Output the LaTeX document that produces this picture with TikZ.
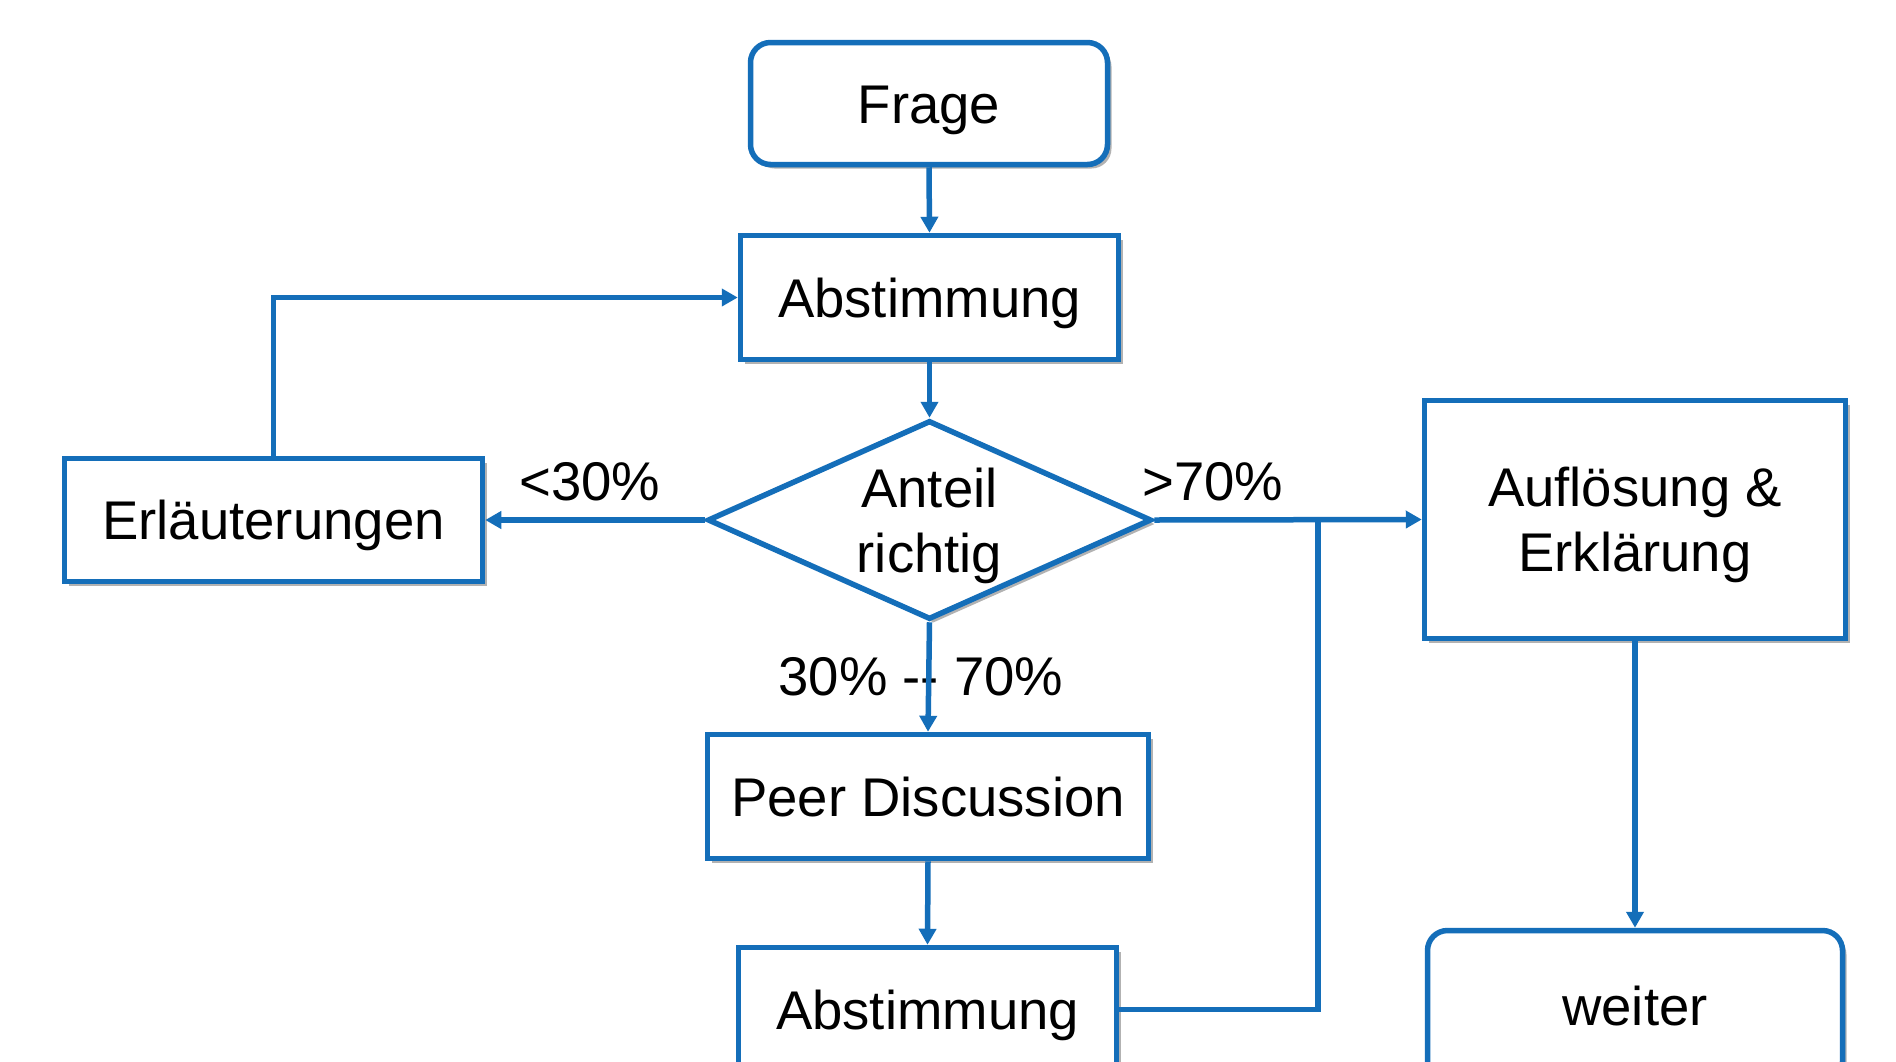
\documentclass[tikz,border=0pt]{standalone}
\usepackage{fontspec}
\setmainfont{Liberation Sans}
\usetikzlibrary{shapes.geometric,arrows.meta,shadows}
\definecolor{myblue}{RGB}{20,110,185}
\newcommand\twoline[2]{\vbox{\halign{\hfil##\hfil\cr#1\cr#2\cr}}}
\begin{document}
\begin{tikzpicture}[x=1pt,y=-1pt,
  font=\fontsize{54.5}{65}\selectfont,
  shd/.style={drop shadow={shadow xshift=4pt,shadow yshift=-4pt,opacity=0.3,fill=black}},
  box/.style={draw=myblue,line width=5.5pt,fill=white,inner sep=0pt,shape=rectangle,
    text height=39pt,text depth=0pt,shd},
  rbox/.style={box,rounded corners=20pt},
  twobox/.style={text height=104pt,text depth=0pt},
  dec/.style={draw=myblue,line width=5.5pt,fill=white,inner sep=0pt,shape=diamond,
    aspect=2.2,shd},
  conn/.style={draw=myblue,line width=5.5pt},
  arr/.style={conn,-{Triangle[length=16pt,width=17pt]}},
  lbl/.style={anchor=base,inner sep=0pt}]
\clip (0,0) rectangle (1896,1061);
\fill[white] (0,0) rectangle (1896,1061);

\node[rbox,minimum width=357pt,minimum height=122pt] (frage) at (929,103.5) {Frage};
\node[box,minimum width=378pt,minimum height=124pt] (abst1) at (929.5,297.5) {Abstimmung};
\node[dec,twobox,minimum width=444pt,minimum height=199pt] (dia) at (929.5,520) {\twoline{Anteil}{richtig}};
\node[box,minimum width=418pt,minimum height=123pt] (erl) at (273.5,520) {Erläuterungen};
\node[box,twobox,minimum width=421pt,minimum height=238pt] (aufl) at (1635,519.5) {\twoline{Auflösung \&}{Erklärung}};
\node[box,minimum width=441pt,minimum height=124pt] (peer) at (928,796.5) {Peer Discussion};
\node[box,minimum width=378pt,minimum height=124pt] (abst2) at (927.5,1009.5) {Abstimmung};
\node[rbox,minimum width=415pt,minimum height=151pt] (weiter) at (1635,1006) {weiter};

\node[lbl] (l30) at (590,500) {<30\%};
\node[lbl] (l70) at (1213,500) {>70\%};
\node[lbl] (lmid) at (921,695) {30\% -{}- 70\%};

\coordinate (junc) at (1318,520);

\draw[arr] (frage.south) -- (abst1.north);
\draw[arr] (abst1.south) -- (dia.north);
\draw[arr] (dia.west) -- (erl.east);
\draw[arr] (erl.north) |- (abst1.west);
\draw[arr] (dia.east) -- (aufl.west);
\draw[arr] (dia.south) -- (peer.north);
\draw[arr] (peer.south) -- (abst2.north);
\draw[conn] (abst2.east) -| (junc);
\draw[arr] (aufl.south) -- (weiter.north);
\end{tikzpicture}
\end{document}
